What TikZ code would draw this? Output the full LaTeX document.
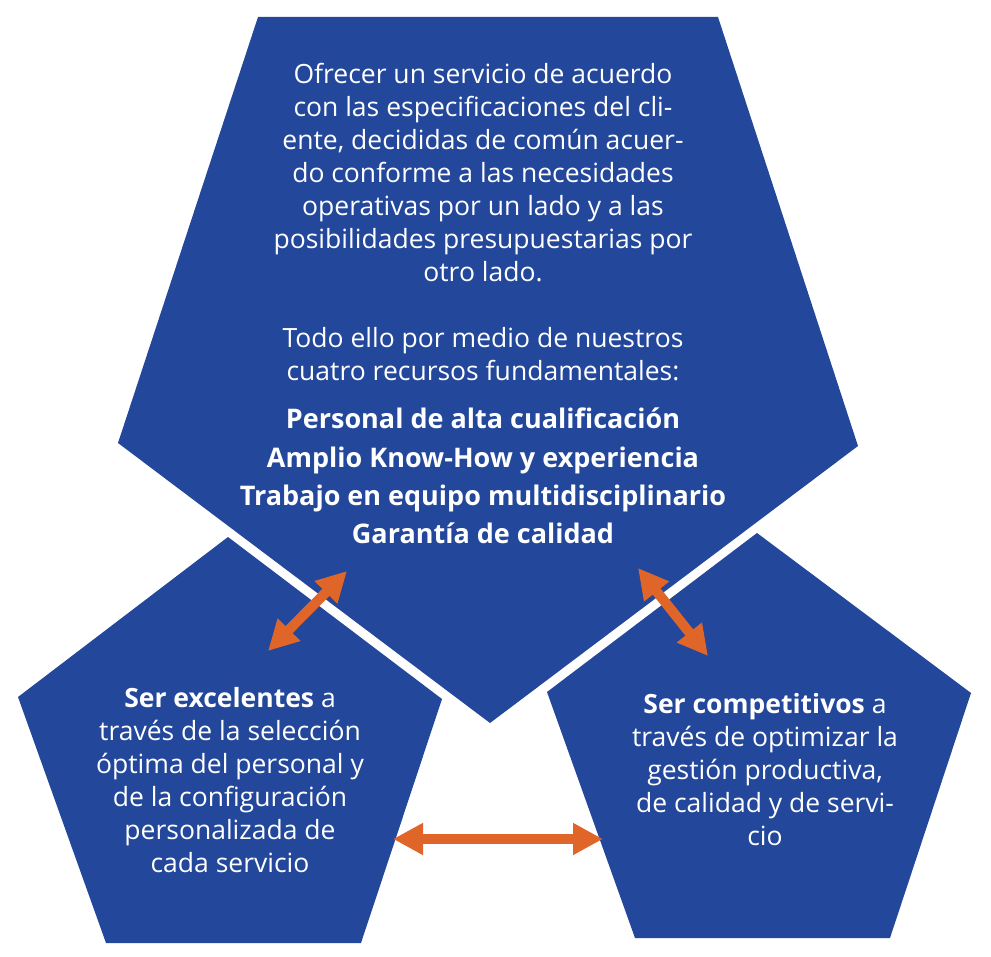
\documentclass[tikz,border=0pt]{standalone}
\usepackage{fontspec}
\setmainfont{Open Sans}
\usetikzlibrary{arrows.meta,positioning}
\definecolor{pentblue}{RGB}{35,71,155}
\definecolor{arrorange}{RGB}{224,101,40}

\begin{document}
\begin{tikzpicture}[x=1pt,y=-1pt,node distance=6pt,
    pent/.style={fill=pentblue},
    gap/.style={preaction={draw=white,line width=12pt,line join=miter}},
    txt/.style={text=white,align=center,inner sep=0pt,font=\fontsize{26.5}{33}\selectfont},
    btxt/.style={txt,font=\bfseries\fontsize{27}{38.3}\selectfont},
    dbl/.style={draw=arrorange,line width=10pt,
      {Triangle[length=30pt,width=30pt]}-{Triangle[length=30pt,width=30pt]}}]
  \useasboundingbox (0,0) rectangle (991,957);

  % pentagons
  \path[pent] (258,17) -- (718,17) -- (858,446) -- (490,723) -- (118,443) -- cycle;
  \path[pent,gap] (228,537) -- (442,699) -- (361,943) -- (106,943) -- (18,697) -- cycle;
  \path[pent,gap] (757,533) -- (971,693) -- (890,938) -- (635,938) -- (547,692) -- cycle;

  % texts
  \node (mision) [txt] at (483,222) {Ofrecer un servicio de acuerdo\\
    con las especificaciones del cli-\\ente, decididas de común acuer-\\
    do conforme a las necesidades\\operativas por un lado y a las\\
    posibilidades presupuestarias por\\otro lado.\\[33pt]
    Todo ello por medio de nuestros\\cuatro recursos fundamentales:};
  \node (recursos) [btxt,below=27pt of mision] {Personal de alta cualificación\\
    Amplio Know-How y experiencia\\Trabajo en equipo multidisciplinario\\
    Garantía de calidad};
  \node (excel) [txt] at (230,780) {\textbf{Ser excelentes} a\\través de la selección\\
    óptima del personal y\\de la configuración\\personalizada de\\cada servicio};
  \node (compet) [txt] at (765,770) {\textbf{Ser competitivos} a\\través de optimizar la\\
    gestión productiva,\\de calidad y de servi-\\cio};

  % arrows
  \coordinate (e1) at (268,651);
  \coordinate (m1) at (347,571);
  \coordinate (c1) at (708,656);
  \coordinate (m2) at (638,568);
  \coordinate (e2) at (393,839);
  \coordinate (c2) at (603,839);
  \draw[dbl] (e1) -- (m1);
  \draw[dbl] (c1) -- (m2);
  \draw[dbl] (e2) -- (c2);
\end{tikzpicture}
\end{document}
